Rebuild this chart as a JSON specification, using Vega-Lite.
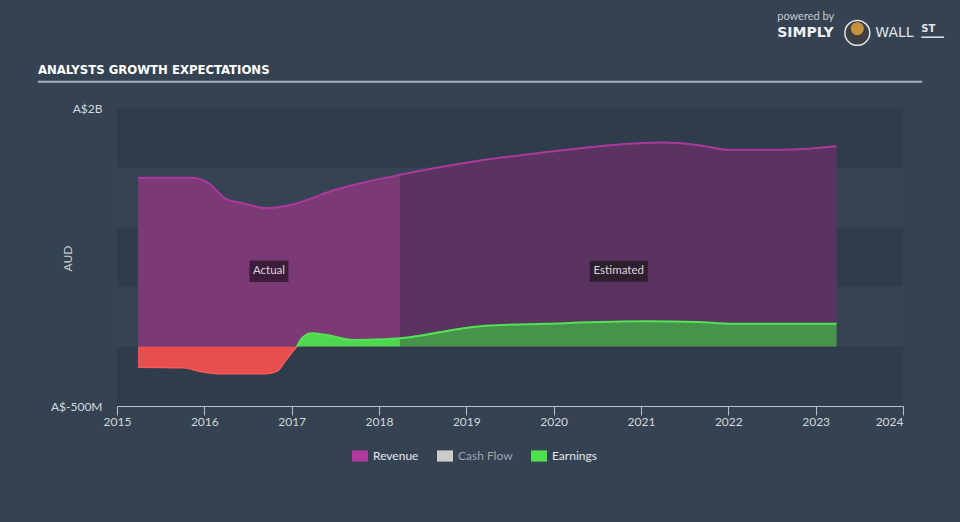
{
  "$schema": "https://vega.github.io/schema/vega-lite/v6.json",
  "width": 786,
  "height": 298,
  "autosize": {"type": "none"},
  "padding": {"left": 117, "top": 108, "right": 57, "bottom": 116},
  "background": "#344251",
  "config": {
    "view": {"stroke": null},
    "axis": {"labelFont": "Lato", "titleFont": "Lato"},
    "legend": {"labelFont": "Lato"}
  },
  "datasets": {
    "series": [
      {"series": "Revenue", "part": "rev_act", "year": 2015.24, "value": 1.415},
      {"series": "Revenue", "part": "rev_act", "year": 2015.84, "value": 1.415},
      {"series": "Revenue", "part": "rev_act", "year": 2016.03, "value": 1.38},
      {"series": "Revenue", "part": "rev_act", "year": 2016.24, "value": 1.24},
      {"series": "Revenue", "part": "rev_act", "year": 2016.45, "value": 1.2},
      {"series": "Revenue", "part": "rev_act", "year": 2016.71, "value": 1.16},
      {"series": "Revenue", "part": "rev_act", "year": 2016.94, "value": 1.18},
      {"series": "Revenue", "part": "rev_act", "year": 2017.1, "value": 1.21},
      {"series": "Revenue", "part": "rev_act", "year": 2017.48, "value": 1.31},
      {"series": "Revenue", "part": "rev_act", "year": 2017.85, "value": 1.38},
      {"series": "Revenue", "part": "rev_act", "year": 2018.24, "value": 1.44},
      {"series": "Revenue", "part": "rev_est", "year": 2018.24, "value": 1.44},
      {"series": "Revenue", "part": "rev_est", "year": 2019.16, "value": 1.56},
      {"series": "Revenue", "part": "rev_est", "year": 2019.92, "value": 1.63},
      {"series": "Revenue", "part": "rev_est", "year": 2020.69, "value": 1.69},
      {"series": "Revenue", "part": "rev_est", "year": 2021.26, "value": 1.71},
      {"series": "Revenue", "part": "rev_est", "year": 2021.64, "value": 1.69},
      {"series": "Revenue", "part": "rev_est", "year": 2022.02, "value": 1.65},
      {"series": "Revenue", "part": "rev_est", "year": 2022.6, "value": 1.65},
      {"series": "Revenue", "part": "rev_est", "year": 2023.24, "value": 1.68},
      {"series": "Earnings", "part": "earn_neg", "year": 2015.24, "value": -0.175},
      {"series": "Earnings", "part": "earn_neg", "year": 2015.76, "value": -0.18},
      {"series": "Earnings", "part": "earn_neg", "year": 2015.95, "value": -0.21},
      {"series": "Earnings", "part": "earn_neg", "year": 2016.19, "value": -0.23},
      {"series": "Earnings", "part": "earn_neg", "year": 2016.71, "value": -0.23},
      {"series": "Earnings", "part": "earn_neg", "year": 2016.83, "value": -0.21},
      {"series": "Earnings", "part": "earn_neg", "year": 2016.94, "value": -0.11},
      {"series": "Earnings", "part": "earn_neg", "year": 2017.06, "value": 0},
      {"series": "Earnings", "part": "earn_pos", "year": 2017.06, "value": 0},
      {"series": "Earnings", "part": "earn_pos", "year": 2017.13, "value": 0.076},
      {"series": "Earnings", "part": "earn_pos", "year": 2017.23, "value": 0.11},
      {"series": "Earnings", "part": "earn_pos", "year": 2017.4, "value": 0.095},
      {"series": "Earnings", "part": "earn_pos", "year": 2017.71, "value": 0.054},
      {"series": "Earnings", "part": "earn_pos", "year": 2018.05, "value": 0.06},
      {"series": "Earnings", "part": "earn_pos", "year": 2018.24, "value": 0.068},
      {"series": "Earnings", "part": "earn_est", "year": 2018.24, "value": 0.068},
      {"series": "Earnings", "part": "earn_est", "year": 2019.16, "value": 0.17},
      {"series": "Earnings", "part": "earn_est", "year": 2019.92, "value": 0.19},
      {"series": "Earnings", "part": "earn_est", "year": 2021.07, "value": 0.21},
      {"series": "Earnings", "part": "earn_est", "year": 2021.64, "value": 0.205},
      {"series": "Earnings", "part": "earn_est", "year": 2022.02, "value": 0.19},
      {"series": "Earnings", "part": "earn_est", "year": 2023.24, "value": 0.19}
    ],
    "bands": [
      {"lo": 1.5, "hi": 2.0, "kind": "dark"},
      {"lo": 1.0, "hi": 1.5, "kind": "light"},
      {"lo": 0.5, "hi": 1.0, "kind": "dark"},
      {"lo": 0.0, "hi": 0.5, "kind": "light"},
      {"lo": -0.5, "hi": 0.0, "kind": "dark"}
    ],
    "legend": [
      {"series": "Revenue"},
      {"series": "Cash Flow"},
      {"series": "Earnings"}
    ],
    "notes": [
      {"label": "Actual", "year": 2016.74, "value": 0.63},
      {"label": "Estimated", "year": 2020.745, "value": 0.63}
    ],
    "heading": [
      {"label": "ANALYSTS GROWTH EXPECTATIONS", "year": 2014.095, "value": 2.285}
    ],
    "logo": [
      {"label": "powered by", "year": 2022.56, "value": 2.737},
      {"label": "SIMPLY", "year": 2022.56, "value": 2.596},
      {"label": "WALL", "year": 2023.683, "value": 2.596},
      {"label": "ST", "year": 2024.21, "value": 2.64}
    ]
  },
  "layer": [
    {
      "data": {"name": "bands"},
      "transform": [{"filter": "datum.kind === 'dark'"}],
      "mark": {"type": "rect", "fill": "#2f3c4b"},
      "encoding": {
        "y": {"field": "hi", "type": "quantitative", "scale": {"domain": [-0.5, 2], "nice": false, "zero": false}, "axis": {
          "values": [-0.5, 2],
          "labelExpr": "datum.value == 2 ? 'A$2B' : 'A$-500M'",
          "grid": false, "ticks": false, "domain": false,
          "labelColor": "#d3d8de", "labelFontSize": 12, "labelPadding": 15,
          "title": "AUD", "titleColor": "#c9cfd6", "titleFontSize": 12, "titleFontWeight": "normal",
          "titleAngle": 270, "titleX": -50, "titleY": 150, "titleAlign": "center", "titleBaseline": "middle"
        }},
        "y2": {"field": "lo"}
      }
    },
    {
      "data": {"name": "bands"},
      "transform": [{"filter": "datum.kind === 'light'"}],
      "mark": {"type": "rect", "fill": "#354352"},
      "encoding": {
        "y": {"field": "hi", "type": "quantitative"},
        "y2": {"field": "lo"}
      }
    },
    {
      "data": {"name": "series"},
      "mark": {"type": "area", "interpolate": "monotone", "opacity": 1},
      "encoding": {
        "x": {"field": "year", "type": "quantitative", "scale": {"domain": [2015, 2024], "nice": false, "zero": false}, "axis": {
          "values": [2015, 2016, 2017, 2018, 2019, 2020, 2021, 2022, 2023, 2024],
          "format": "d", "grid": false, "title": null,
          "domainColor": "#b8c2cc", "tickColor": "#b8c2cc", "tickSize": 9,
          "labelColor": "#d3d8de", "labelFontSize": 12, "labelPadding": 1,
          "labelAlign": {"condition": {"test": "datum.value == 2024", "value": "right"}, "value": "center"}
        }},
        "y": {"field": "value", "type": "quantitative"},
        "y2": {"datum": 0},
        "fill": {"field": "part", "type": "nominal", "legend": null, "scale": {
          "domain": ["rev_act", "rev_est", "earn_neg", "earn_pos", "earn_est"],
          "range": ["#7b3a75", "#5a3360", "#e94e4e", "#4fd84f", "#46944c"]
        }}
      }
    },
    {
      "data": {"name": "series"},
      "transform": [{"filter": "datum.part !== 'earn_neg'"}],
      "mark": {"type": "line", "interpolate": "monotone", "strokeWidth": 2},
      "encoding": {
        "x": {"field": "year", "type": "quantitative"},
        "y": {"field": "value", "type": "quantitative"},
        "stroke": {"field": "series", "type": "nominal", "legend": null, "scale": {
          "domain": ["Revenue", "Earnings"], "range": ["#ad389c", "#52e452"]
        }}
      }
    },
    {
      "data": {"name": "series"},
      "transform": [{"filter": "datum.part === 'earn_neg'"}],
      "mark": {"type": "line", "interpolate": "monotone", "strokeWidth": 1.5, "stroke": "#f55a5a"},
      "encoding": {
        "x": {"field": "year", "type": "quantitative"},
        "y": {"field": "value", "type": "quantitative"}
      }
    },
    {
      "mark": {"type": "rule", "stroke": "#c5cbd1", "strokeWidth": 1.5},
      "encoding": {"y": {"datum": 0, "type": "quantitative"}}
    },
    {
      "data": {"name": "notes"},
      "transform": [{"filter": "datum.label === 'Actual'"}],
      "mark": {"type": "point", "shape": "M-1,-0.55H1V0.55H-1Z", "size": 1521, "filled": true, "fill": "#3b1a39", "opacity": 0.95, "strokeWidth": 0},
      "encoding": {
        "x": {"field": "year", "type": "quantitative"},
        "y": {"field": "value", "type": "quantitative"}
      }
    },
    {
      "data": {"name": "notes"},
      "transform": [{"filter": "datum.label === 'Estimated'"}],
      "mark": {"type": "point", "shape": "M-1,-0.36H1V0.36H-1Z", "size": 3364, "filled": true, "fill": "#2b1d2d", "opacity": 0.95, "strokeWidth": 0},
      "encoding": {
        "x": {"field": "year", "type": "quantitative"},
        "y": {"field": "value", "type": "quantitative"}
      }
    },
    {
      "data": {"name": "notes"},
      "mark": {"type": "text", "font": "Lato", "fontSize": 11.5, "color": "#ddd5dd", "align": "center", "baseline": "middle"},
      "encoding": {
        "x": {"field": "year", "type": "quantitative"},
        "y": {"field": "value", "type": "quantitative"},
        "text": {"field": "label"}
      }
    },
    {
      "data": {"name": "heading"},
      "mark": {"type": "text", "font": "DejaVu Sans Condensed", "fontSize": 13, "fontWeight": "bold", "color": "#ffffff", "align": "left", "baseline": "alphabetic", "clip": false},
      "encoding": {
        "x": {"field": "year", "type": "quantitative"},
        "y": {"field": "value", "type": "quantitative"},
        "text": {"field": "label"}
      }
    },
    {
      "data": {"values": [{"x1": 2014.095, "x2": 2024.221, "v": 2.22}]},
      "mark": {"type": "rule", "stroke": "#a9b2bc", "strokeWidth": 2, "clip": false},
      "encoding": {
        "x": {"field": "x1", "type": "quantitative"},
        "x2": {"field": "x2"},
        "y": {"field": "v", "type": "quantitative"}
      }
    },
    {
      "data": {"name": "logo"},
      "transform": [{"filter": "datum.label === 'powered by'"}],
      "mark": {"type": "text", "font": "Lato", "fontSize": 11, "color": "#c3c9cf", "align": "left", "baseline": "alphabetic", "clip": false},
      "encoding": {
        "x": {"field": "year", "type": "quantitative"},
        "y": {"field": "value", "type": "quantitative"},
        "text": {"field": "label"}
      }
    },
    {
      "data": {"name": "logo"},
      "transform": [{"filter": "datum.label === 'SIMPLY'"}],
      "mark": {"type": "text", "font": "DejaVu Sans", "fontSize": 14, "fontWeight": "bold", "color": "#eef1f4", "align": "left", "baseline": "alphabetic", "clip": false},
      "encoding": {
        "x": {"field": "year", "type": "quantitative"},
        "y": {"field": "value", "type": "quantitative"},
        "text": {"field": "label"}
      }
    },
    {
      "data": {"name": "logo"},
      "transform": [{"filter": "datum.label === 'WALL'"}],
      "mark": {"type": "text", "font": "DejaVu Sans", "fontSize": 14, "color": "#e3e7eb", "align": "left", "baseline": "alphabetic", "clip": false},
      "encoding": {
        "x": {"field": "year", "type": "quantitative"},
        "y": {"field": "value", "type": "quantitative"},
        "text": {"field": "label"}
      }
    },
    {
      "data": {"name": "logo"},
      "transform": [{"filter": "datum.label === 'ST'"}],
      "mark": {"type": "text", "font": "DejaVu Sans", "fontSize": 10, "fontWeight": "bold", "color": "#e3e7eb", "align": "left", "baseline": "alphabetic", "clip": false},
      "encoding": {
        "x": {"field": "year", "type": "quantitative"},
        "y": {"field": "value", "type": "quantitative"},
        "text": {"field": "label"}
      }
    },
    {
      "data": {"values": [{"x1": 2024.21, "x2": 2024.47, "v": 2.594}]},
      "mark": {"type": "rule", "stroke": "#e3e7eb", "strokeWidth": 1.5, "clip": false},
      "encoding": {
        "x": {"field": "x1", "type": "quantitative"},
        "x2": {"field": "x2"},
        "y": {"field": "v", "type": "quantitative"}
      }
    },
    {
      "data": {"values": [{"x": 2023.477, "v": 2.63}]},
      "mark": {"type": "point", "shape": "circle", "size": 620, "filled": true, "fill": "#3d3f44", "opacity": 1, "stroke": "#dfe3e7", "strokeWidth": 1.5, "clip": false},
      "encoding": {
        "x": {"field": "x", "type": "quantitative"},
        "y": {"field": "v", "type": "quantitative"}
      }
    },
    {
      "data": {"values": [{"x": 2023.477, "v": 2.665}]},
      "mark": {"type": "point", "shape": "circle", "size": 170, "filled": true, "fill": "#c8913e", "opacity": 1, "clip": false},
      "encoding": {
        "x": {"field": "x", "type": "quantitative"},
        "y": {"field": "v", "type": "quantitative"}
      }
    },
    {
      "data": {"name": "legend"},
      "mark": {"type": "square", "opacity": 0},
      "encoding": {
        "color": {"field": "series", "type": "nominal", "scale": {
          "domain": ["Revenue", "Cash Flow", "Earnings"],
          "range": ["#b0389d", "#cccccc", "#4fe24f"]
        }, "legend": {
          "title": null, "orient": "none", "legendX": 235, "legendY": 340, "direction": "horizontal",
          "symbolType": "M-1,-0.7H1V0.7H-1Z", "symbolSize": 256, "symbolOpacity": 1, "symbolStrokeWidth": 0,
          "labelFontSize": 12, "labelColor": "#e3e6ea", "labelOffset": 5, "columnPadding": 18,
          "encode": {"labels": {"update": {"fill": {"signal": "datum.label === 'Cash Flow' ? '#9ea7b1' : '#e3e6ea'"}}}}
        }}
      }
    }
  ]
}
